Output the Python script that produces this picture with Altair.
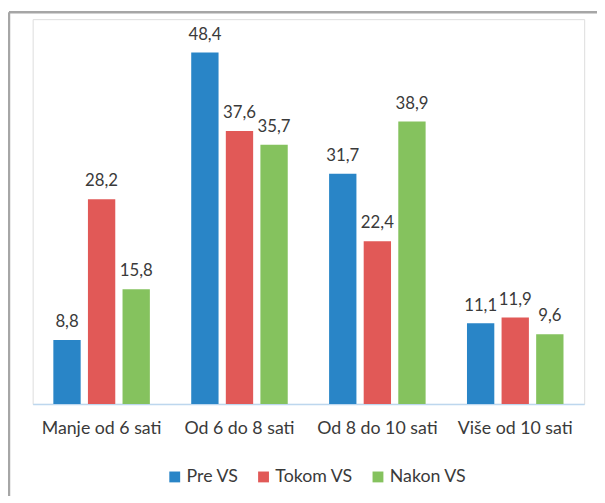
import altair as alt
import pandas as pd

categories = ["Manje od 6 sati", "Od 6 do 8 sati", "Od 8 do 10 sati", "Više od 10 sati"]
series = ["Pre VS", "Tokom VS", "Nakon VS"]
pre_vs = [8.8, 48.4, 31.7, 11.1]
tokom_vs = [28.2, 37.6, 22.4, 11.9]
nakon_vs = [15.8, 35.7, 38.9, 9.6]
colors = ["#2985c7", "#e15957", "#85c25e"]

rows = []
for i, c in enumerate(categories):
    for s, vals in zip(series, [pre_vs, tokom_vs, nakon_vs]):
        rows.append({"kat": c, "serija": s, "v": vals[i]})
df = pd.DataFrame(rows)

FONT = "Lato"
TXT = "#3a3a3a"

base = alt.Chart(df).encode(
    x=alt.X("kat:N", sort=categories, title=None,
            scale=alt.Scale(paddingInner=0.3, paddingOuter=0.15),
            axis=alt.Axis(labelAngle=0, ticks=False, domainColor="#bdd7ee", domainWidth=1.5,
                          labelFont=FONT, labelFontSize=18, labelColor=TXT, labelPadding=16)),
    xOffset=alt.XOffset("serija:N", sort=series, scale=alt.Scale(paddingInner=0.21, paddingOuter=0)),
    y=alt.Y("v:Q", scale=alt.Scale(domain=[0, 53], nice=False), axis=None),
)

bars = base.mark_bar().encode(
    color=alt.Color("serija:N", sort=series, scale=alt.Scale(domain=series, range=colors),
                    legend=alt.Legend(title=None, orient="none", direction="horizontal",
                                      legendX=135, legendY=455, symbolType="square",
                                      symbolSize=121, symbolStrokeWidth=0, labelFont=FONT,
                                      labelFontSize=18, labelColor=TXT, columnPadding=16,
                                      labelOffset=3))
)

labels = base.transform_calculate(
    lab="replace(format(datum.v, '.1f'), '.', ',')"
).mark_text(baseline="bottom", dy=-9, font=FONT, fontSize=17, color=TXT).encode(
    text="lab:N"
)

frame = pd.DataFrame({"a": [0]})
top_line = alt.Chart(frame).mark_rule(color="#a6a6a6", strokeWidth=2.5).encode(
    x=alt.value(-24), x2=alt.value(580), y=alt.value(-7)
)
left_line = alt.Chart(frame).mark_rule(color="#a6a6a6", strokeWidth=2.5).encode(
    x=alt.value(-24), y=alt.value(-7), y2=alt.value(500)
)

chart = alt.layer(bars, labels, top_line, left_line).properties(
    width=559, height=390,
    padding={"left": 25, "top": 8, "right": 13, "bottom": 90},
    autosize="none",
).configure_view(stroke=None).configure(background="white")

chart.save("out.html", embed_options={"renderer": "svg", "actions": False})
